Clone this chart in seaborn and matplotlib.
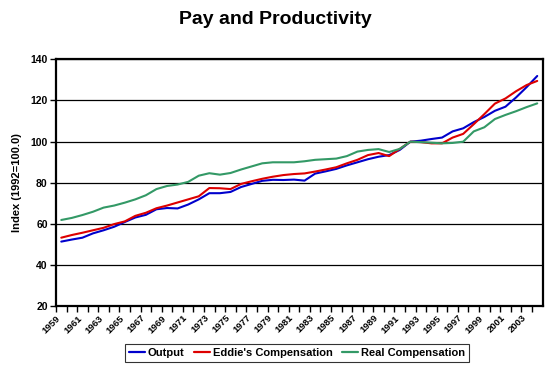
import numpy as np
import pandas as pd
import matplotlib
matplotlib.use("Agg")
import matplotlib.pyplot as plt
import seaborn as sns

# Dane (indeks, 1992 = 100)
years = list(range(1959, 2005))

output = [51.5, 52.5, 53.4, 55.5, 57.0, 58.7, 61.0, 63.2, 64.5, 67.2,
          67.8, 67.6, 69.5, 72.0, 75.0, 75.0, 75.6, 78.0, 79.5, 81.0,
          81.5, 81.4, 81.6, 81.1, 84.5, 85.6, 86.8, 88.5, 90.0, 91.5,
          92.7, 93.5, 96.0, 100.0, 100.5, 101.3, 102.0, 105.0, 106.5, 109.5,
          112.0, 115.0, 117.0, 121.5, 126.5, 131.9]

eddie_comp = [53.4, 54.7, 55.8, 57.0, 58.2, 60.0, 61.3, 64.0, 65.5, 67.7,
              69.0, 70.5, 72.0, 73.5, 77.5, 77.4, 77.0, 79.5, 80.8, 82.0,
              83.0, 83.8, 84.3, 84.6, 85.5, 86.5, 87.6, 89.5, 91.2, 93.5,
              94.5, 93.0, 96.5, 100.0, 99.8, 99.2, 99.2, 102.0, 103.8, 108.5,
              113.4, 118.5, 121.0, 124.5, 127.5, 129.5]

real_comp = [62.0, 63.0, 64.4, 66.0, 68.0, 69.0, 70.4, 72.0, 74.0, 77.0,
             78.5, 79.2, 80.5, 83.5, 84.7, 84.0, 84.8, 86.5, 88.0, 89.5,
             90.0, 90.0, 90.0, 90.5, 91.2, 91.5, 91.8, 93.0, 95.2, 96.0,
             96.4, 95.0, 96.5, 100.0, 99.8, 99.5, 99.2, 99.4, 100.0, 105.0,
             107.0, 111.0, 113.0, 114.8, 116.8, 118.6]

series_names = ["Output", "Eddie's Compensation", "Real Compensation"]
colors = ["#0000CC", "#DD0000", "#339966"]

df = pd.DataFrame({
    "year": years * 3,
    "value": output + eddie_comp + real_comp,
    "series": [series_names[0]] * len(years)
              + [series_names[1]] * len(years)
              + [series_names[2]] * len(years),
})

sns.set_style("white")
plt.rcParams["font.family"] = ["Liberation Sans", "DejaVu Sans"]
plt.rcParams["font.weight"] = "bold"
for key in ["text.color", "axes.labelcolor", "xtick.color", "ytick.color"]:
    plt.rcParams[key] = "black"

fig = plt.figure(figsize=(5.51, 3.69), dpi=100)
ax = fig.add_axes([0.1016, 0.1694, 0.8830, 0.6699])

sns.lineplot(data=df, x="year", y="value", hue="series",
             palette=colors, hue_order=series_names,
             linewidth=1.5, ax=ax, legend=False)

# Oś Y
ax.set_ylim(20, 140)
ax.set_yticks(range(20, 141, 20))
ax.yaxis.grid(True, color="black", linewidth=0.9)
ax.set_ylabel("Index (1992=100.0)", fontsize=8, fontweight="bold", labelpad=6)
ax.tick_params(axis="y", labelsize=7.5, length=4, width=1, direction="out",
               left=True, pad=2)

# Oś X: kreski co rok, etykiety co dwa lata
ax.set_xlim(years[0] - 0.5, years[-1] + 0.5)
ax.set_xticks([y - 0.5 for y in years], minor=True)
ax.set_xticks([y - 0.5 for y in years[::2]])
ax.set_xticklabels([str(y) for y in years[::2]])
ax.tick_params(axis="x", which="both", length=4, width=1, direction="out",
               bottom=True)
ax.tick_params(axis="x", labelsize=6.8, pad=1)
for lbl in ax.get_xticklabels():
    lbl.set_rotation(45)
    lbl.set_ha("right")
    lbl.set_rotation_mode("anchor")
    lbl.set_fontweight("bold")
for lbl in ax.get_yticklabels():
    lbl.set_fontweight("bold")
ax.set_xlabel("")

for sp in ax.spines.values():
    sp.set_visible(True)
    sp.set_color("black")
    sp.set_linewidth(1.6)

fig.suptitle("Pay and Productivity", fontsize=14, fontweight="bold",
             color="black", x=0.5, y=0.97)

handles = [plt.Line2D([], [], color=c, linewidth=1.6) for c in colors]
leg = fig.legend(handles, series_names, loc="center", ncol=3,
                 bbox_to_anchor=(0.539, 0.0434), frameon=True, fancybox=False,
                 prop={"size": 8, "weight": "bold"}, handlelength=1.4,
                 handletextpad=0.25, columnspacing=0.9, borderpad=0.35)
leg.get_frame().set_edgecolor("black")
leg.get_frame().set_linewidth(0.8)

fig.savefig("out.png", dpi=100)
